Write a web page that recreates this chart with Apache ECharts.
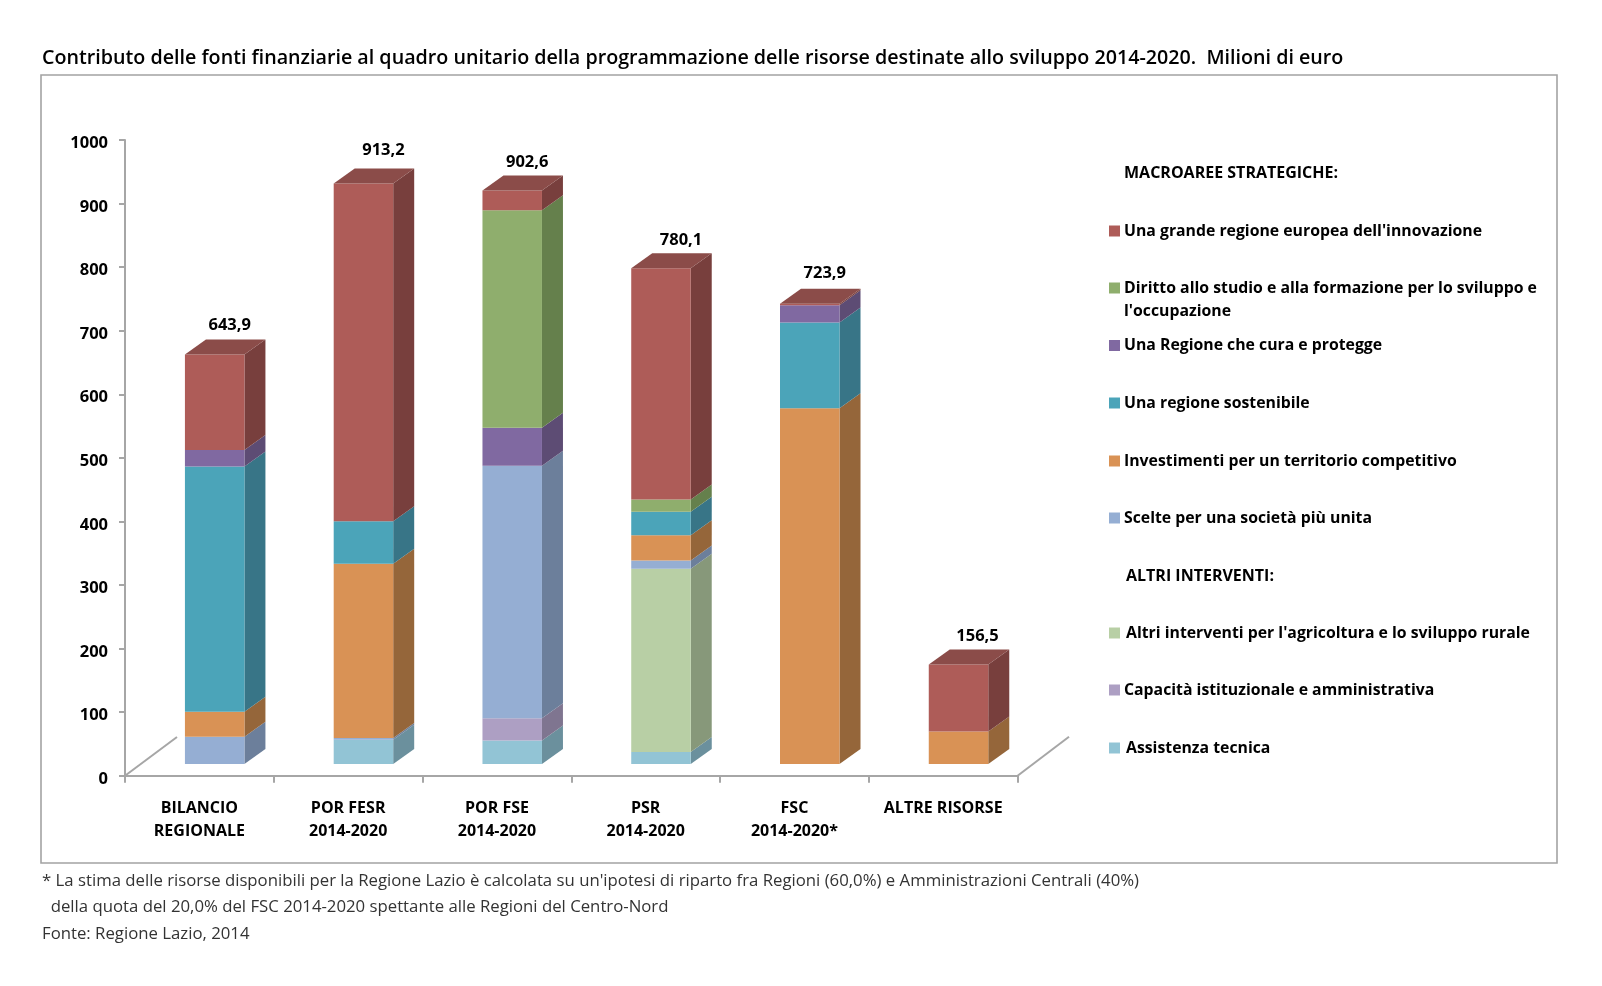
<!DOCTYPE html>
<html><head><meta charset="utf-8">
<style>html,body{margin:0;padding:0;background:#fff}#c{width:1602px;height:986px}</style>
<script src="https://cdn.jsdelivr.net/npm/echarts@6/dist/echarts.min.js"></script>
</head><body><div id="c"></div>
<script>
const categories = ['BILANCIO\nREGIONALE','POR FESR\n2014-2020','POR FSE\n2014-2020','PSR\n2014-2020','FSC\n2014-2020*','ALTRE RISORSE'];
const totals = [643.9, 913.2, 902.6, 780.1, 723.9, 156.5];
const totalLabels = ['643,9','913,2','902,6','780,1','723,9','156,5'];
const assistenza   = [0, 38, 37, 19, 0, 0];
const capacita     = [0, 0, 35, 0, 0, 0];
const altri        = [0, 0, 0, 288, 0, 0];
const scelte       = [43, 3, 397, 13, 0, 0];
const investimenti = [39, 274, 0, 40, 559.5, 51];
const sostenibile  = [386, 67, 0, 37, 135, 0];
const cura         = [26, 0, 60, 0, 27, 0];
const diritto      = [0, 0, 342, 19, 0, 0];
const innovazione  = [150, 531, 31, 364, 2.4, 105.5];
const titleText = "Contributo delle fonti finanziarie al quadro unitario della programmazione delle risorse destinate allo sviluppo 2014-2020.  Milioni di euro";
const notes = ["* La stima delle risorse disponibili per la Regione Lazio è calcolata su un'ipotesi di riparto fra Regioni (60,0%) e Amministrazioni Centrali (40%)",
 "  della quota del 20,0% del FSC 2014-2020 spettante alle Regioni del Centro-Nord",
 "Fonte: Regione Lazio, 2014"];

const stack = [
 {name:"Assistenza tecnica", values:assistenza, front:'#92C4D5', side:'#6B909D', top:'#7CA6B5', ly:751, tx:1},
 {name:"Capacità istituzionale e amministrativa", values:capacita, front:'#AD9FC3', side:'#7F7590', top:'#94889F', ly:693},
 {name:"Altri interventi per l'agricoltura e lo sviluppo rurale", values:altri, front:'#B8CFA5', side:'#87987A', top:'#9CB08C', ly:636, tx:1},
 {name:"Scelte per una società più unita", values:scelte, front:'#95AED3', side:'#6C7F9B', top:'#7F94B3', ly:521},
 {name:"Investimenti per un territorio competitivo", values:investimenti, front:'#D99255', side:'#95663A', top:'#B87C48', ly:464},
 {name:"Una regione sostenibile", values:sostenibile, front:'#4BA4B9', side:'#387587', top:'#3F8B9D', ly:406},
 {name:"Una Regione che cura e protegge", values:cura, front:'#8069A1', side:'#5D4C74', top:'#6C5989', ly:348.5},
 {name:"Diritto allo studio e alla formazione per lo sviluppo e\nl'occupazione", values:diritto, front:'#8FAE6D', side:'#65804C', top:'#79945C', ly:291},
 {name:"Una grande regione europea dell'innovazione", values:innovazione, front:'#AE5C58', side:'#783F3D', top:'#8B4C49', ly:234}
];

const FONT = '"Open Sans"';
const TEXT_W = 700;
const G = {left:125, top:140, width:892.6, height:635.7};
const BASE_DROP = 11.7, DX = 21, DY = 15, BAR_SHIFT = 15.3, BAR_W = 59.5;
const labelNudgeX = [-4, 1, -4, 1, -4, 0];
const labelNudgeY = [6, 2, 7, 7, 4, 7];

function segSeries(s, idx){
  const data = s.values.map((v,i)=>{
    let start = 0;
    for(let k=0;k<idx;k++) start += stack[k].values[i];
    return [i, start, start+v];
  });
  return {
    type:'custom', name:s.name, clip:false, silent:true,
    itemStyle:{color:s.front},
    encode:{x:0,y:2},
    data,
    renderItem(params, api){
      const i = api.value(0), a = api.value(1), b = api.value(2);
      if(b-a <= 0) return null;
      const pa = api.coord([i,a]), pb = api.coord([i,b]);
      const x0 = pa[0]+BAR_SHIFT-BAR_W/2, x1 = x0+BAR_W;
      const by = pa[1]-BASE_DROP, ty = pb[1]-BASE_DROP;
      const children = [
        {type:'polygon', shape:{points:[[x1,by],[x1+DX,by-DY],[x1+DX,ty-DY],[x1,ty]]}, style:{fill:s.side}},
        {type:'rect', shape:{x:x0,y:ty,width:BAR_W,height:by-ty}, style:{fill:s.front}}
      ];
      let isTop = true;
      for(let k=idx+1;k<stack.length;k++) if(stack[k].values[i]>0) isTop=false;
      if(isTop) children.push({type:'polygon', shape:{points:[[x0,ty],[x0+DX,ty-DY],[x1+DX,ty-DY],[x1,ty]]}, style:{fill:s.top}});
      return {type:'group', children};
    }
  };
}

const totalSeries = {
  type:'custom', name:'Totale', clip:false, silent:true,
  encode:{x:0,y:1},
  data: totals.map((v,i)=>[i,v]),
  renderItem(params, api){
    const i = api.value(0), p = api.coord([i, api.value(1)]);
    return {type:'text', x:p[0]+BAR_SHIFT+19+labelNudgeX[i], y:p[1]-BASE_DROP-35+labelNudgeY[i],
      style:{text:totalLabels[i], fill:'#000', font:`${TEXT_W} 16.5px ${FONT}`, textAlign:'center', textVerticalAlign:'middle'}};
  }
};

const legends = stack.map(s=>({
  data:[{name:s.name, icon:'rect'}], orient:'vertical', left:1109, top:s.ly-11, padding:0,
  itemWidth:11, itemHeight:11, itemGap:0, selectedMode:false,
  formatter:n=>n.split('\n')[0],
  textStyle:{fontFamily:FONT, fontWeight:TEXT_W, fontSize:15.8, color:'#000', padding:[0,0,0,s.tx||-1]}
}));

const txt = (x,y,t,o)=>({type:'text', x, y, silent:true, style:Object.assign({text:t, fill:'#000', font:`${TEXT_W} 16px ${FONT}`, textVerticalAlign:'middle'},o||{})});
const noteFont = {font:`400 16.75px ${FONT}`, fill:'#333'};

const option = {
  animation:false,
  backgroundColor:'#fff',
  title:{text:titleText, left:42, top:48, padding:0, textStyle:{fontFamily:FONT, fontWeight:600, fontSize:19.7, color:'#000'}},
  legend:legends,
  grid:{left:G.left, top:G.top, width:G.width, height:G.height, containLabel:false},
  xAxis:{type:'category', data:categories, boundaryGap:true,
    axisLine:{lineStyle:{color:'#A6A6A6', width:2}},
    axisTick:{show:true, length:7, lineStyle:{color:'#A6A6A6', width:2}},
    axisLabel:{interval:0, margin:21, fontFamily:FONT, fontWeight:TEXT_W, fontSize:16, lineHeight:23, color:'#000'}},
  yAxis:{type:'value', min:0, max:1000, interval:100, splitLine:{show:false},
    axisLine:{show:true, lineStyle:{color:'#A6A6A6', width:2}},
    axisTick:{show:true, length:6, lineStyle:{color:'#A6A6A6', width:2}},
    axisLabel:{margin:17, formatter:v=>`{a|${v}}`,
      rich:{a:{padding:[7,0,0,0], fontFamily:FONT, fontWeight:TEXT_W, fontSize:16.5, color:'#000'}}}},
  graphic:[
    {type:'rect', silent:true, z:-1, shape:{x:41,y:75,width:1516,height:788}, style:{fill:'none', stroke:'#A3A3A3', lineWidth:1.6}},
    {type:'polyline', silent:true, shape:{points:[[125,775.7],[177,737]]}, style:{stroke:'#A6A6A6', lineWidth:2, fill:'none'}},
    {type:'polyline', silent:true, shape:{points:[[1017.6,775.7],[1069,736.7]]}, style:{stroke:'#A6A6A6', lineWidth:2, fill:'none'}},
    txt(1124,173,'MACROAREE STRATEGICHE:'),
    txt(1124,311,"l'occupazione",{font:`${TEXT_W} 15.8px ${FONT}`}),
    txt(1126,576,'ALTRI INTERVENTI:'),
    txt(42,881,notes[0],noteFont),
    txt(42,907,notes[1],noteFont),
    txt(42,934,notes[2],noteFont)
  ],
  series: stack.map(segSeries).concat([totalSeries])
};
echarts.init(document.getElementById('c'),null,{renderer:'canvas'}).setOption(option);
</script></body></html>
